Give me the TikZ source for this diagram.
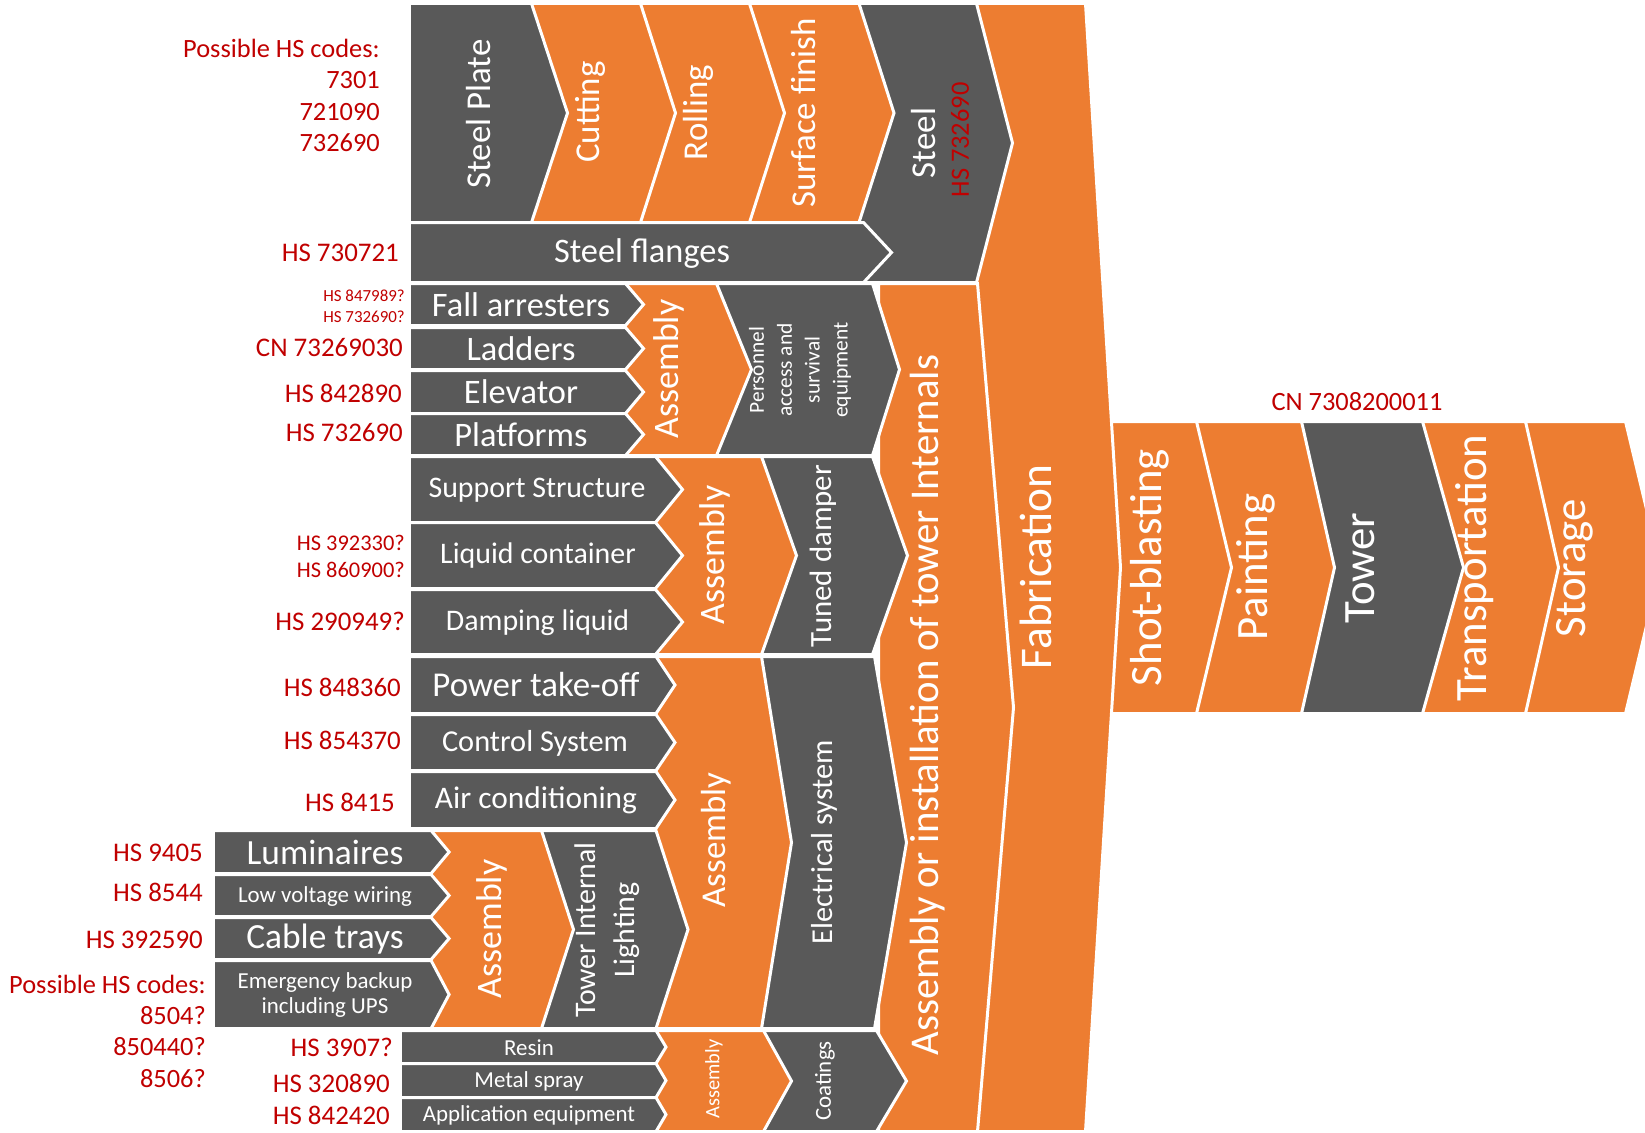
\documentclass[tikz,border=0pt]{standalone}
\usepackage{fontspec}
\setmainfont{Carlito}
\definecolor{orng}{HTML}{ED7D31}
\definecolor{dgray}{HTML}{595959}
\definecolor{hsred}{HTML}{C00000}
\newcommand\setfs[2]{\fontsize{#1}{#2}\selectfont}
% chevron: style, x1, y1, x2, y2, tip depth (visible edges, px)
\newcommand\chev[6]{\path[#1] ({#2-1.5},{#3-1.5}) -- ({#4+1.5},{#3-1.5}) -- ({#4+#6+1.5},{(#3+#5)/2}) -- ({#4+1.5},{#5+1.5}) -- ({#2-1.5},{#5+1.5}) -- cycle;}
\tikzset{
  obox/.style={fill=orng, draw=white, line width=3pt},
  dbox/.style={fill=dgray, draw=white, line width=3pt},
  wl/.style={text=white, inner sep=0pt, align=center},
  wr/.style={wl, rotate=90},
  rd/.style={text=hsred, inner sep=0pt, align=right, anchor=east},
}
\begin{document}
\begin{tikzpicture}[x=1bp, y=-1bp]
\useasboundingbox (0,0) rectangle (1645,1132);
\clip (0,0) rectangle (1645,1132);
% right chain
\chev{obox}{1524}{423}{1624}{712}{35}
\chev{obox}{1421}{423}{1524}{712}{33}
\chev{dbox}{1300}{423}{1421}{712}{41}
\chev{obox}{1195}{423}{1300}{712}{33}
\chev{obox}{1112}{423}{1195}{712}{35}
% fabrication
\chev{obox}{960}{5}{1084}{1130}{35}
% assembly or installation
\chev{obox}{880}{285}{976}{1130}{36}
% steel
\chev{dbox}{857.5}{5}{975}{281}{36}
% second level
\chev{dbox}{715}{285}{871}{454}{27}
\chev{dbox}{760}{458}{871}{653}{35}
\chev{dbox}{760}{658}{873}{1027}{32}
\chev{dbox}{762}{1032}{875}{1130}{30}
% assemblies
\chev{obox}{624}{285}{715}{454}{35}
\chev{obox}{654}{458}{760}{653}{35}
\chev{obox}{654.5}{658}{760}{1027}{30}
\chev{obox}{654.5}{1032}{762}{1130}{28}
% lighting
\chev{dbox}{540}{832}{654.5}{1027}{32}
\chev{obox}{429.6}{832}{540}{1027}{32}
% small arrows
\chev{dbox}{411}{285}{624}{324}{18}
\chev{dbox}{411}{329}{624}{368}{18}
\chev{dbox}{411}{372}{624}{412}{18}
\chev{dbox}{411}{415}{624}{454}{18}
\chev{dbox}{411}{458}{654}{521}{27}
\chev{dbox}{411}{524}{654}{587}{27}
\chev{dbox}{411}{591}{654}{653}{27}
\chev{dbox}{411}{658}{654.5}{712}{19}
\chev{dbox}{411}{716}{654.5}{769}{19}
\chev{dbox}{411}{773}{654.5}{827}{19}
\chev{dbox}{215}{832}{429.6}{872}{18}
\chev{dbox}{215}{876}{429.6}{915}{18}
\chev{dbox}{215}{919}{429.6}{958}{18}
\chev{dbox}{215}{962}{429.6}{1027}{18}
\chev{dbox}{402}{1032}{654.5}{1062}{10}
\chev{dbox}{402}{1065}{654.5}{1096}{10}
\chev{dbox}{402}{1099}{654.5}{1130}{10}
% top row
\chev{obox}{748}{5}{857.5}{221}{35}
\chev{obox}{639}{5}{748}{221}{35}
\chev{obox}{530}{5}{639}{221}{35}
\chev{dbox}{411}{5}{530}{221}{36}
\chev{dbox}{411}{224}{862}{281}{28}

% white labels
\node[wr, font=\setfs{35}{42}] (tSP) at (479,114) {Steel Plate};
\node[wr, font=\setfs{35}{42}] (tCut) at (590,112) {Cutting};
\node[wr, font=\setfs{35}{42}] (tRol) at (698,112.5) {Rolling};
\node[wr, font=\setfs{35}{42}] (tSF) at (804,113) {Surface finish};
\node[wr, font=\setfs{35}{42}] (tSt) at (924,143) {Steel};
\node[rotate=90, text=hsred, inner sep=0pt, font=\setfs{26.5}{31}] (tStHS) at (960,140) {HS 732690};
\node[wl, font=\setfs{34.5}{41}] (tSFl) at (642,253.5) {Steel flanges};
\node[wl, font=\setfs{34.5}{41}] (tFA) at (521,305) {Fall arresters};
\node[wl, font=\setfs{34.5}{41}] (tLad) at (521,348.5) {Ladders};
\node[wl, font=\setfs{34.5}{41}] (tEle) at (521,392) {Elevator};
\node[wl, font=\setfs{34.5}{41}] (tPla) at (521,434.5) {Platforms};
\node[wr, font=\setfs{36}{43}] (tAs1) at (669,369) {Assembly};
\node[wr, font=\setfs{21.5}{28}] (tPer) at (800,370) {Personnel\\access and\\survival\\equipment};
\node[wl, font=\setfs{30}{36}] (tSup) at (537,490) {Support Structure};
\node[wl, font=\setfs{30}{36}] (tLiq) at (538,556) {Liquid container};
\node[wl, font=\setfs{30}{36}] (tDam) at (537.6,622.5) {Damping liquid};
\node[wr, font=\setfs{36}{43}] (tAs2) at (715,555) {Assembly};
\node[wr, font=\setfs{31}{37}] (tTun) at (823,556) {Tuned damper};
\node[wl, font=\setfs{35}{42}] (tPTO) at (536,685) {Power take-off};
\node[wl, font=\setfs{30.5}{37}] (tCS) at (535,743) {Control System};
\node[wl, font=\setfs{31.5}{38}] (tAC) at (536,800.5) {Air conditioning};
\node[wr, font=\setfs{35}{42}] (tAs3) at (716.5,840) {Assembly};
\node[wr, font=\setfs{30.5}{37}] (tEl) at (824,842) {Electrical system};
\node[wl, font=\setfs{35.5}{42}] (tLum) at (325,852.5) {Luminaires};
\node[wl, font=\setfs{23}{27}] (tLV) at (325,896) {Low voltage wiring};
\node[wl, font=\setfs{35.5}{42}] (tCT) at (325,939) {Cable trays};
\node[wl, font=\setfs{23}{26}] (tEm) at (325,995) {Emergency backup\\including UPS};
\node[wr, font=\setfs{36}{43}] (tAs5) at (491.5,929) {Assembly};
\node[wr, font=\setfs{30}{39}] (tTIL) at (607.5,930) {Tower Internal\\Lighting};
\node[wl, font=\setfs{23}{27}] (tRes) at (529,1047.5) {Resin};
\node[wl, font=\setfs{23}{27}] (tMS) at (529,1081) {Metal spray};
\node[wl, font=\setfs{23}{27}] (tAE) at (529,1115) {Application equipment};
\node[wr, font=\setfs{20.5}{24}] (tAs4) at (714,1079) {Assembly};
\node[wr, font=\setfs{23}{27}] (tCoa) at (825,1081) {Coatings};
\node[wr, font=\setfs{41}{49}] (tAI) at (928,705) {Assembly or installation of tower Internals};
\node[wr, font=\setfs{45.5}{54}] (tFab) at (1036,567) {Fabrication};
\node[wr, font=\setfs{45}{54}] (tSB) at (1149.5,567.5) {Shot-blasting};
\node[wr, font=\setfs{45}{54}] (tPai) at (1256,567) {Painting};
\node[wr, font=\setfs{45}{54}] (tTow) at (1360,568) {Tower};
\node[wr, font=\setfs{45}{54}] (tTra) at (1475,568) {Transportation};
\node[wr, font=\setfs{45}{54}] (tSto) at (1575,568) {Storage};

% red labels
\node[rd, font=\setfs{26.5}{31.7}] (r1) at (380,95.5) {Possible HS codes:\\7301\\721090\\732690};
\node[rd, font=\setfs{27}{32}] (r2) at (399,252.5) {HS 730721};
\node[rd, font=\setfs{17}{21}] (r3) at (405,306.5) {HS 847989?\\HS 732690?};
\node[rd, font=\setfs{27}{32}] (r4) at (403,348) {CN 73269030};
\node[rd, font=\setfs{27}{32}] (r5) at (402,393) {HS 842890};
\node[rd, font=\setfs{27}{32}] (r6) at (403,433) {HS 732690};
\node[rd, font=\setfs{22.5}{27}] (r7) at (405,556.5) {HS 392330?\\HS 860900?};
\node[rd, font=\setfs{27}{32}] (r8) at (405,621) {HS 290949?};
\node[rd, font=\setfs{27}{32}] (r9) at (401,687) {HS 848360};
\node[rd, font=\setfs{27}{32}] (r10) at (401,740) {HS 854370};
\node[rd, font=\setfs{27}{32}] (r11) at (395,802) {HS 8415};
\node[rd, font=\setfs{27}{32}] (r12) at (203,853) {HS 9405};
\node[rd, font=\setfs{27}{32}] (r13) at (203,892) {HS 8544};
\node[rd, font=\setfs{27}{32}] (r14) at (203,940) {HS 392590};
\node[rd, font=\setfs{26.5}{31.5}] (r15) at (206,1031) {Possible HS codes:\\8504?\\850440?\\8506?};
\node[rd, font=\setfs{27}{32}] (r16) at (393,1047) {HS 3907?};
\node[rd, font=\setfs{27}{32}] (r17) at (390,1083) {HS 320890};
\node[rd, font=\setfs{27}{32}] (r18) at (390,1115) {HS 842420};
\node[text=hsred, inner sep=0pt, font=\setfs{26.5}{31}] (cn) at (1357,402) {CN 7308200011};
\end{tikzpicture}
\end{document}
